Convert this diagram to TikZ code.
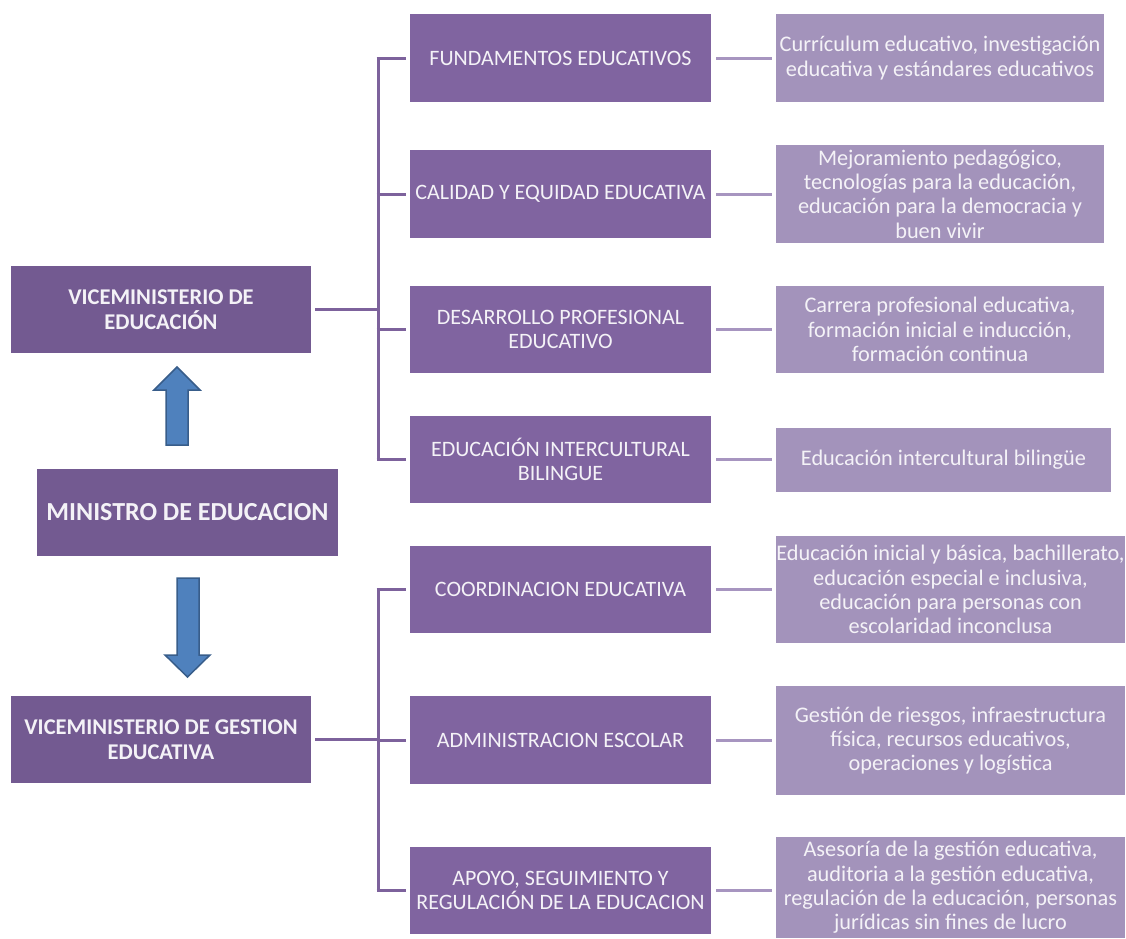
\documentclass[tikz,border=0pt]{standalone}
\usepackage{fontspec}
\setmainfont{Carlito}
\definecolor{leftc}{HTML}{735A91}
\definecolor{midc}{HTML}{8064A0}
\definecolor{rightc}{HTML}{A393BB}
\definecolor{linec}{HTML}{7D629C}
\definecolor{rlinec}{HTML}{A795C0}
\definecolor{arrfill}{HTML}{4F81BD}
\definecolor{arrdraw}{HTML}{385D8A}
\definecolor{txt}{HTML}{F4F2F7}
\begin{document}
\begin{tikzpicture}[x=1pt,y=-1pt,
  basebox/.style={inner sep=0pt, text=txt, align=center},
  lbox/.style={basebox, fill=leftc, font=\fontsize{22.5}{24.5}\selectfont\bfseries},
  mbox/.style={basebox, fill=midc, font=\fontsize{22}{24}\selectfont},
  rbox/.style={basebox, fill=rightc, font=\fontsize{22.3}{24.3}\selectfont},
  conn/.style={draw=linec, line width=3pt},
  rconn/.style={draw=rlinec, line width=3pt},
  bigarrow/.style={fill=arrfill, draw=arrdraw, line width=1.5pt, line join=miter}]
\useasboundingbox (0,0) rectangle (1126,938);
% left column
\node[lbox, minimum width=300, minimum height=87] (vice) at (161,309.5) {VICEMINISTERIO DE\\EDUCACIÓN};
\node[lbox, minimum width=301, minimum height=87, font=\fontsize{26}{30}\selectfont\bfseries] (min) at (187.5,512.5) {MINISTRO DE EDUCACION};
\node[lbox, minimum width=300, minimum height=87] (gest) at (161,739.5) {VICEMINISTERIO DE GESTION\\EDUCATIVA};
% middle column
\node[mbox, minimum width=301, minimum height=88] (fund) at (560.5,58) {FUNDAMENTOS EDUCATIVOS};
\node[mbox, minimum width=301, minimum height=88] (cal) at (560.5,194) {CALIDAD Y EQUIDAD EDUCATIVA};
\node[mbox, minimum width=301, minimum height=87] (des) at (560.5,329.5) {DESARROLLO PROFESIONAL\\EDUCATIVO};
\node[mbox, minimum width=301, minimum height=87] (inter) at (560.5,459.5) {EDUCACIÓN INTERCULTURAL\\BILINGUE};
\node[mbox, minimum width=301, minimum height=87] (coord) at (560.5,589.5) {COORDINACION EDUCATIVA};
\node[mbox, minimum width=301, minimum height=88] (adm) at (560.5,740) {ADMINISTRACION ESCOLAR};
\node[mbox, minimum width=301, minimum height=87] (apoyo) at (560.5,890.5) {APOYO, SEGUIMIENTO Y\\REGULACIÓN DE LA EDUCACION};
% right column
\node[rbox, minimum width=328, minimum height=88] (curr) at (940,58) {Currículum educativo, investigación\\educativa y estándares educativos};
\node[rbox, minimum width=328, minimum height=98] (mej) at (940,194) {Mejoramiento pedagógico,\\tecnologías para la educación,\\educación para la democracia y\\buen vivir};
\node[rbox, minimum width=328, minimum height=87] (car) at (940,329.5) {Carrera profesional educativa,\\formación inicial e inducción,\\formación continua};
\node[rbox, minimum width=335, minimum height=64] (eib) at (943.5,460) {Educación intercultural bilingüe};
\node[rbox, minimum width=349, minimum height=107] (ini) at (950.5,589.5) {Educación inicial y básica, bachillerato,\\educación especial e inclusiva,\\educación para personas con\\escolaridad inconclusa};
\node[rbox, minimum width=349, minimum height=109] (ges) at (950.5,740.5) {Gestión de riesgos, infraestructura\\física, recursos educativos,\\operaciones y logística};
\node[rbox, minimum width=349, minimum height=101] (ase) at (950.5,887.5) {Asesoría de la gestión educativa,\\auditoria a la gestión educativa,\\regulación de la educación, personas\\jurídicas sin fines de lucro};
% bracket coordinates
\coordinate (bx) at (378,0);
% upper bracket
\draw[conn] (fund.west -| bx) -- (inter.west -| bx);
\foreach \n in {fund,cal,des,inter}{
  \draw[conn] ([xshift=-1.5pt]\n.west -| bx) -- ([xshift=-4pt]\n.west);
}
\draw[conn] ([xshift=4pt]vice.east) -- (vice.east -| bx);
% lower bracket
\draw[conn] (coord.west -| bx) -- (apoyo.west -| bx);
\foreach \n in {coord,adm,apoyo}{
  \draw[conn] ([xshift=-1.5pt]\n.west -| bx) -- ([xshift=-4pt]\n.west);
}
\draw[conn] ([xshift=4pt]gest.east) -- (gest.east -| bx);
% connectors to details
\draw[rconn] ([xshift=5pt]fund.east) -- ([xshift=-4pt]fund.east -| curr.west);
\draw[rconn] ([xshift=5pt]cal.east) -- ([xshift=-4pt]cal.east -| mej.west);
\draw[rconn] ([xshift=5pt]des.east) -- ([xshift=-4pt]des.east -| car.west);
\draw[rconn] ([xshift=5pt]inter.east) -- ([xshift=-4pt]inter.east -| eib.west);
\draw[rconn] ([xshift=5pt]coord.east) -- ([xshift=-4pt]coord.east -| ini.west);
\draw[rconn] ([xshift=5pt]adm.east) -- ([xshift=-4pt]adm.east -| ges.west);
\draw[rconn] ([xshift=5pt]apoyo.east) -- ([xshift=-4pt]apoyo.east -| ase.west);
% block arrows
\draw[bigarrow] (166,445) -- (166,390) -- (154,390) -- (177,367) -- (200,390) -- (188,390) -- (188,445) -- cycle;
\draw[bigarrow] (177,578) -- (199,578) -- (199,655) -- (210,655) -- (187.5,677) -- (165,655) -- (177,655) -- cycle;
\end{tikzpicture}
\end{document}
